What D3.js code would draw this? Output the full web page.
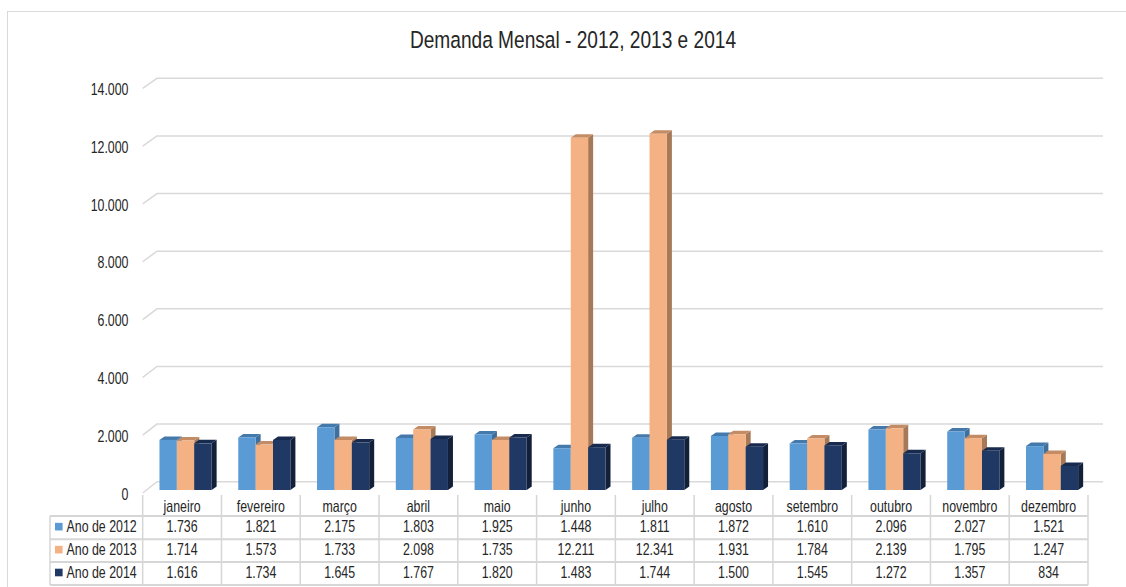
<!DOCTYPE html>
<html>
<head>
<meta charset="utf-8">
<script src="https://cdn.jsdelivr.net/npm/d3@7/dist/d3.min.js"></script>
<style>
  body { margin: 0; background: #fff; }
  text { font-family: "Liberation Sans", Arial, sans-serif; fill: #262626; }
</style>
</head>
<body>
<div id="chart"></div>
<script>
var titulo = "Demanda Mensal - 2012, 2013 e 2014";
var meses = ["janeiro", "fevereiro", "março", "abril", "maio", "junho",
  "julho", "agosto", "setembro", "outubro", "novembro", "dezembro"];
var anos = ["Ano de 2012", "Ano de 2013", "Ano de 2014"];
var valores2012 = [1736, 1821, 2175, 1803, 1925, 1448, 1811, 1872, 1610, 2096, 2027, 1521];
var valores2013 = [1714, 1573, 1733, 2098, 1735, 12211, 12341, 1931, 1784, 2139, 1795, 1247];
var valores2014 = [1616, 1734, 1645, 1767, 1820, 1483, 1744, 1500, 1545, 1272, 1357, 834];
var yTicks = [0, 2000, 4000, 6000, 8000, 10000, 12000, 14000];

function colunas3d() {
  var _chart = {};

  var _width = 1126, _height = 587,
    _svg,
    _series,
    _cores = [
      {frente: "#5b9bd5", topo: "#4479ab", lado: "#3e6f9d"},
      {frente: "#f4b183", topo: "#c48c64", lado: "#a67958"},
      {frente: "#203864", topo: "#182b4e", lado: "#122039"}
    ];

  var fmt = d3.formatLocale({decimal: ",", thousands: ".", grouping: [3], currency: ["R$", ""]}).format(",d");

  // eixo frontal (rótulos) e parede do fundo (grade)
  var yFront = d3.scaleLinear().domain([0, 14000]).range([493, 88.3]);
  var yBack = d3.scaleLinear().domain([0, 14000]).range([481.7, 78.3]);
  var yBar = d3.scaleLinear().domain([0, 14000]).range([490, 86]);
  var x = d3.scaleBand().domain(meses).range([142.7, 1088]);
  var xs = d3.scaleBand().domain(anos).range([x.bandwidth() * 0.213, x.bandwidth() * 0.875]);
  var depthX = 5, depthY = 3.5;

  function texto(g, px, py, s, anchor, size, sx) {
    return g.append("text")
      .attr("transform", "translate(" + px + "," + py + ") scale(" + sx + ",1)")
      .attr("text-anchor", anchor)
      .attr("dominant-baseline", "central")
      .style("font-size", size + "px")
      .text(s);
  }

  _chart.render = function (id) {
    if (!_svg) {
      _svg = d3.select('#' + id).append("svg")
        .attr("width", _width)
        .attr("height", _height);
    }
    _svg.append("rect")
      .attr("x", 7.5).attr("y", 11.5)
      .attr("width", 1130).attr("height", 600)
      .attr("fill", "none").attr("stroke", "#d9d9d9");

    texto(_svg, 573, 40, titulo, "middle", 24.5, 0.78);

    renderGrid();
    renderBars();
    renderTable();
  };

  function renderGrid() {
    var g = _svg.append("g").attr("class", "grid");
    yTicks.forEach(function (v) {
      g.append("path")
        .attr("d", "M142.7," + yFront(v) + "L157," + yBack(v) + "L1103," + yBack(v))
        .attr("fill", "none")
        .attr("stroke", "#d9d9d9")
        .attr("stroke-width", 1.5);
      texto(g, 128.5, yFront(v) + 1, fmt(v), "end", 16.5, 0.75);
    });
  }

  function renderBars() {
    var g = _svg.append("g").attr("class", "bars");
    meses.forEach(function (m, i) {
      _series.forEach(function (s, k) {
        var v = s.values[i];
        var x0 = x(m) + xs(s.name), x1 = x0 + xs.bandwidth();
        var y0 = yBar(0), y1 = yBar(v);
        var c = _cores[k];
        g.append("path")
          .attr("d", "M" + x1 + "," + y1 + "L" + (x1 + depthX) + "," + (y1 - depthY) +
            "L" + (x1 + depthX) + "," + (y0 - depthY) + "L" + x1 + "," + y0 + "Z")
          .attr("fill", c.lado);
        g.append("path")
          .attr("d", "M" + x0 + "," + y1 + "L" + (x0 + depthX) + "," + (y1 - depthY) +
            "L" + (x1 + depthX) + "," + (y1 - depthY) + "L" + x1 + "," + y1 + "Z")
          .attr("fill", c.topo);
        g.append("rect")
          .attr("x", x0).attr("y", y1)
          .attr("width", xs.bandwidth()).attr("height", y0 - y1)
          .attr("fill", c.frente);
      });
    });
  }

  function renderTable() {
    var g = _svg.append("g").attr("class", "table");
    var rows = [516, 539.3, 562, 585];
    var left = 50, right = 1088, top = 495;

    rows.forEach(function (ry) {
      g.append("line")
        .attr("x1", left).attr("x2", right)
        .attr("y1", ry).attr("y2", ry)
        .attr("stroke", "#d6d6d6").attr("stroke-width", 2);
    });
    g.append("line")
      .attr("x1", left).attr("x2", left)
      .attr("y1", rows[0]).attr("y2", rows[3])
      .attr("stroke", "#d6d6d6").attr("stroke-width", 1.5);
    meses.concat(["fim"]).forEach(function (m, i) {
      var lx = i < meses.length ? x(m) : right;
      g.append("line")
        .attr("x1", lx).attr("x2", lx)
        .attr("y1", top).attr("y2", rows[3])
        .attr("stroke", "#d6d6d6").attr("stroke-width", 1.5);
    });

    meses.forEach(function (m) {
      texto(g, x(m) + x.bandwidth() / 2, 506, m, "middle", 16.5, 0.75);
    });

    _series.forEach(function (s, k) {
      var cy = (rows[k] + rows[k + 1]) / 2 - 1;
      g.append("rect")
        .attr("x", 55).attr("y", cy - 3.8)
        .attr("width", 7.6).attr("height", 7.6)
        .attr("fill", _cores[k].frente);
      texto(g, 66.5, cy, s.name, "start", 16.5, 0.75);
      meses.forEach(function (m, i) {
        texto(g, x(m) + x.bandwidth() / 2, cy, fmt(s.values[i]), "middle", 16.5, 0.75);
      });
    });
  }

  _chart.series = function (s) {
    if (!arguments.length) return _series;
    _series = s;
    return _chart;
  };

  return _chart;
}

var grafico = colunas3d()
  .series([
    {name: anos[0], values: valores2012},
    {name: anos[1], values: valores2013},
    {name: anos[2], values: valores2014}
  ]);
grafico.render("chart");
</script>
</body>
</html>
